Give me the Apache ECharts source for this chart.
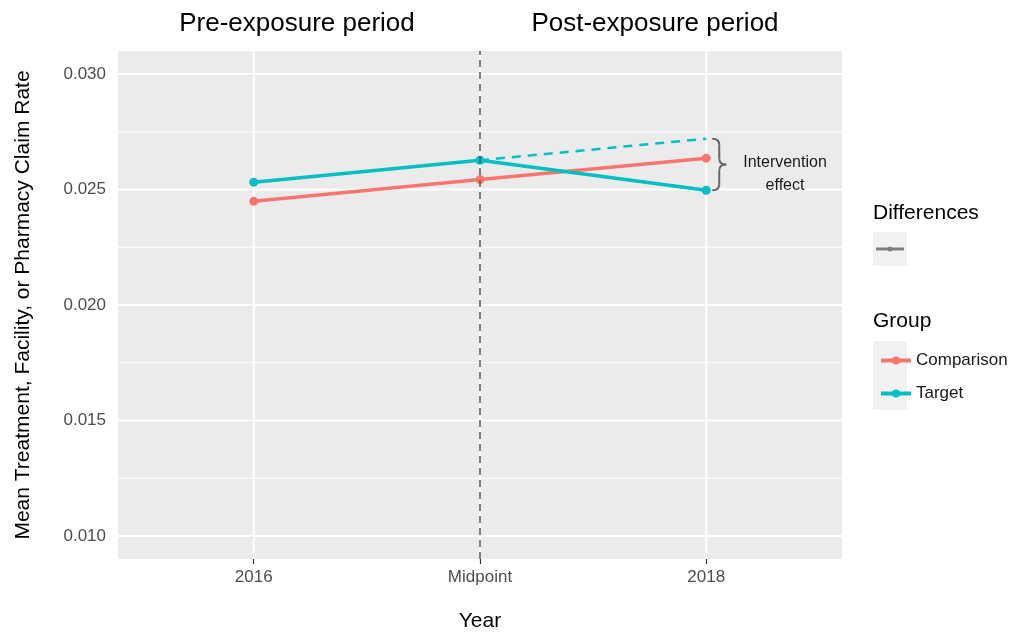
<!DOCTYPE html>
<html>
<head>
<meta charset="utf-8">
<title>Intervention effect</title>
<script src="https://cdn.jsdelivr.net/npm/echarts@6/dist/echarts.min.js"></script>
<style>
  html, body { margin: 0; padding: 0; background: #fff; }
  #chart { width: 1018px; height: 633px; }
</style>
</head>
<body>
<div id="chart"></div>
<script>
// data
var years = ['2016', 'Midpoint', '2018'];
var comparison = [0.02449, 0.02543, 0.02636];
var target = [0.02532, 0.02627, 0.02497];
var counterfactual = [null, 0.02627, 0.02720]; // dashed target trend w/o intervention
var yTicks = [0.010, 0.015, 0.020, 0.025, 0.030];
var yMinor = [0.0125, 0.0175, 0.0225, 0.0275];

var FONT = '"Liberation Sans", Arial, sans-serif';
var RED = '#F8766D', TEAL = '#00BFC4';

function pts(arr) {
	var out = [];
	for (var i = 0; i < arr.length; i++) {
		if (arr[i] != null) out.push([i, arr[i]]);
	}
	return out;
}

// grid lines of the panel: [0 = horizontal / 1 = vertical, value, line width]
var gridLines = [];
for (var i = 0; i < yMinor.length; i++) gridLines.push([0, yMinor[i], 1]);
for (var i = 0; i < yTicks.length; i++) gridLines.push([0, yTicks[i], 2]);
for (var i = 0; i < years.length; i++) gridLines.push([1, i, 2]);

var chart = echarts.init(document.getElementById('chart'));

var option = {
	animation: false,
	textStyle: { fontFamily: FONT },
	grid: {
		left: 118, right: 176, top: 51, bottom: 74,
		outerBoundsMode: 'none',
		containLabel: false,
		show: true, backgroundColor: '#EBEBEB', borderWidth: 0
	},
	xAxis: {
		type: 'value',
		min: -0.6, max: 2.6,
		name: 'Year',
		nameLocation: 'middle',
		nameGap: 52,
		nameTextStyle: { fontSize: 21, color: '#000', fontFamily: FONT },
		axisLine: { show: false },
		axisTick: { show: true, customValues: [0, 1, 2], length: 5, lineStyle: { color: '#333', width: 1.2 } },
		axisLabel: {
			customValues: [0, 1, 2],
			formatter: function(v) { return years[Math.round(v)]; },
			fontSize: 17, color: '#4D4D4D', margin: 10, fontFamily: FONT
		},
		splitLine: { show: false }
	},
	yAxis: {
		type: 'value',
		min: 0.009, max: 0.031,
		name: 'Mean Treatment, Facility, or Pharmacy Claim Rate',
		nameLocation: 'middle',
		nameGap: 84,
		nameTextStyle: { fontSize: 21, color: '#000', fontFamily: FONT },
		axisLine: { show: false },
		axisTick: { show: true, customValues: yTicks, length: 5, lineStyle: { color: '#333', width: 1.2 } },
		axisLabel: {
			customValues: yTicks,
			formatter: function(v) { return v.toFixed(3); },
			fontSize: 17, color: '#4D4D4D', margin: 12, fontFamily: FONT
		},
		splitLine: { show: false }
	},
	legend: {
		data: ['Comparison', 'Target'],
		orient: 'vertical',
		left: 874, top: 347,
		itemWidth: 30, itemHeight: 10,
		itemGap: 16,
		lineStyle: { width: 4 },
		textStyle: { fontSize: 17, color: '#1A1A1A', fontFamily: FONT }
	},
	series: [
		{
			name: 'grid',
			type: 'custom',
			silent: true,
			z: 1,
			data: gridLines,
			renderItem: function(params, api) {
				var kind = api.value(0), v = api.value(1), lw = api.value(2);
				var a, b;
				if (kind === 0) {
					a = api.coord([-0.6, v]);
					b = api.coord([2.6, v]);
				} else {
					a = api.coord([v, 0.009]);
					b = api.coord([v, 0.031]);
				}
				return {
					type: 'line',
					shape: { x1: a[0], y1: a[1], x2: b[0], y2: b[1] },
					style: { stroke: '#FFFFFF', lineWidth: lw }
				};
			}
		},
		{
			name: 'Comparison',
			type: 'line',
			data: pts(comparison),
			color: RED,
			lineStyle: { width: 3.5 },
			symbol: 'circle', symbolSize: 9,
			z: 3
		},
		{
			name: 'Target',
			type: 'line',
			data: pts(target),
			color: TEAL,
			lineStyle: { width: 3.5 },
			symbol: 'circle', symbolSize: 9,
			z: 3
		},
		{
			name: 'Counterfactual',
			type: 'line',
			data: pts(counterfactual),
			color: TEAL,
			lineStyle: { width: 2.5, type: [9, 7] },
			symbol: 'none',
			z: 3,
			markLine: {
				silent: true,
				symbol: 'none',
				label: { show: false },
				lineStyle: { color: '#555', width: 1.5, type: [7, 5] },
				data: [{ xAxis: 1 }],
				z: 5
			}
		}
	]
};

chart.setOption(option);

// Annotations: brace + text next to the 2018 points, legend boxes, period titles
var pTop = chart.convertToPixel({ gridIndex: 0 }, [2, counterfactual[2]]);
var pBot = chart.convertToPixel({ gridIndex: 0 }, [2, target[2]]);
var bx = pTop[0] + 6, y1 = pTop[1], y2 = pBot[1], ym = (y1 + y2) / 2;
var w = 14, r = 6, mx = bx + w / 2;
var braceStyle = { stroke: '#666', lineWidth: 2, fill: null };

chart.setOption({
	graphic: [
		{ type: 'text', x: 297, y: 24, style: { text: 'Pre-exposure period', fontSize: 26, fontFamily: FONT, fill: '#000', align: 'center', verticalAlign: 'middle' } },
		{ type: 'text', x: 655, y: 24, style: { text: 'Post-exposure period', fontSize: 26, fontFamily: FONT, fill: '#000', align: 'center', verticalAlign: 'middle' } },
		// brace "}"
		{ type: 'bezierCurve', shape: { x1: bx, y1: y1, cpx1: mx, cpy1: y1, x2: mx, y2: y1 + r }, style: braceStyle, z: 10 },
		{ type: 'line', shape: { x1: mx, y1: y1 + r, x2: mx, y2: ym - r }, style: braceStyle, z: 10 },
		{ type: 'bezierCurve', shape: { x1: mx, y1: ym - r, cpx1: mx, cpy1: ym, x2: bx + w, y2: ym }, style: braceStyle, z: 10 },
		{ type: 'bezierCurve', shape: { x1: bx + w, y1: ym, cpx1: mx, cpy1: ym, x2: mx, y2: ym + r }, style: braceStyle, z: 10 },
		{ type: 'line', shape: { x1: mx, y1: ym + r, x2: mx, y2: y2 - r }, style: braceStyle, z: 10 },
		{ type: 'bezierCurve', shape: { x1: mx, y1: y2 - r, cpx1: mx, cpy1: y2, x2: bx, y2: y2 }, style: braceStyle, z: 10 },
		{ type: 'text', x: 785, y: ym + 10, style: { text: 'Intervention\neffect', fontSize: 16, fontFamily: FONT, fill: '#1A1A1A', align: 'center', verticalAlign: 'middle', lineHeight: 23 }, z: 10 },
		// Differences legend
		{ type: 'text', x: 873, y: 213, style: { text: 'Differences', fontSize: 21, fontFamily: FONT, fill: '#000', verticalAlign: 'middle' } },
		{ type: 'rect', shape: { x: 873, y: 232, width: 34, height: 34 }, style: { fill: '#F2F2F2' } },
		{ type: 'line', shape: { x1: 876, y1: 249, x2: 904, y2: 249 }, style: { stroke: '#7F7F7F', lineWidth: 3 } },
		{ type: 'circle', shape: { cx: 890, cy: 249, r: 2.5 }, style: { fill: '#7F7F7F' } },
		// Group legend
		{ type: 'text', x: 873, y: 321, style: { text: 'Group', fontSize: 21, fontFamily: FONT, fill: '#000', verticalAlign: 'middle' } },
		{ type: 'rect', shape: { x: 873, y: 341, width: 34, height: 69 }, style: { fill: '#F2F2F2' }, z: -1 }
	]
});

window.onresize = function() {
	setTimeout(function() { chart.resize(); }, 200);
};
</script>
</body>
</html>
